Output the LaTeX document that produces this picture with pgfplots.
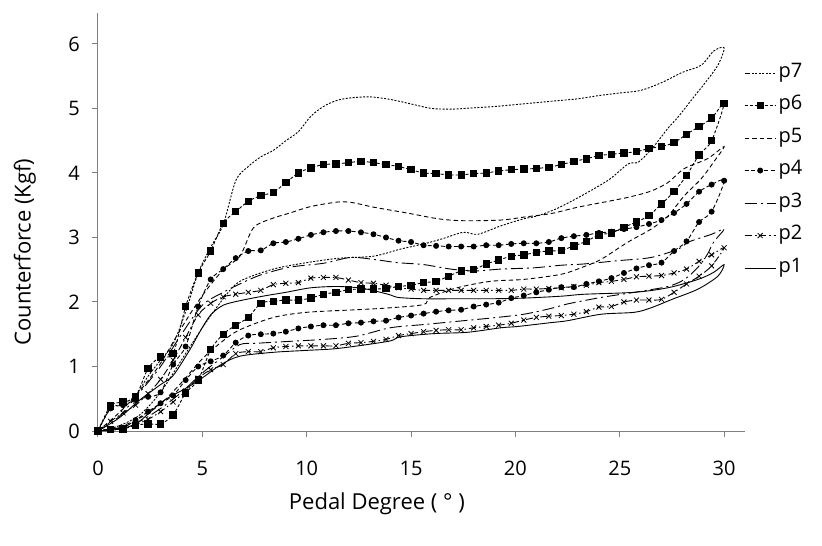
\documentclass[border=0pt]{standalone}
\usepackage{fontspec}
\setmainfont{Open Sans}
\usepackage{pgfplots}
\pgfplotsset{compat=1.18}
\begin{document}
\fontsize{21pt}{25pt}\selectfont
\begin{tikzpicture}
\path[use as bounding box] (-98pt,-115pt) rectangle (724pt,431pt);
\begin{axis}[
  at={(0pt,0pt)}, anchor=south west,
  scale only axis, width=647pt, height=418pt,
  xmin=0, xmax=31, ymin=0, ymax=6.48,
  axis lines=left,
  axis line style={-, draw=gray, line width=1pt},
  xtick={0,5,...,30}, ytick={0,1,...,6},
  tick align=outside, major tick length=6pt,
  tick style={draw=gray, line width=1pt},
  tick label style={font=\fontsize{20pt}{24pt}\selectfont},
  label style={font=\fontsize{22pt}{26pt}\selectfont},
  /pgf/number format/assume math mode=true,
  xticklabel style={yshift=-17pt},
  yticklabel style={xshift=-5pt},
  xlabel={Pedal Degree ( ° )},
  ylabel={Counterforce (Kgf)},
  xlabel style={at={(axis description cs:0.431,-0.175)}, anchor=center},
  ylabel style={at={(axis description cs:-0.113,0.428)}, anchor=center},
  clip=false,
  legend cell align=left,
  legend style={draw=none, fill=none, at={(axis description cs:0.9985,0.882)}, anchor=north west,
    row sep=11.5pt, inner sep=0pt, font=\fontsize{20pt}{24pt}\selectfont,
    nodes={inner sep=2.5pt, text height=12pt, text depth=4pt}},
  legend image code/.code={\draw[#1, mark repeat=2, mark phase=2] plot coordinates {(0pt,0pt) (15.5pt,0pt) (31pt,0pt)};},
  every axis plot/.append style={black, line width=0.9pt, smooth, tension=0.5},
]
% p7
\addplot[dash pattern=on 2pt off 1.5pt] coordinates {
(0,0)(0.6,0.35)(1.2,0.42)(1.8,0.55)(2.4,0.85)(3.0,1.1)(3.6,1.35)(4.2,1.85)(4.8,2.45)(5.4,2.85)(6.0,3.2)(6.6,3.88)(7.2,4.1)(7.8,4.25)(8.4,4.35)(9.0,4.5)(9.6,4.64)(10.2,4.88)(10.8,5.03)(11.4,5.12)(12.0,5.16)(13.0,5.18)(14.0,5.14)(15.0,5.07)(16.0,5.0)(17.0,4.99)(18.0,5.01)(19.0,5.03)(20.0,5.06)(21.0,5.09)(22.0,5.12)(23.0,5.15)(24.0,5.2)(25.0,5.24)(26.0,5.28)(27.0,5.4)(28.0,5.56)(28.9,5.67)(29.5,5.89)(30.0,5.94)
(29.7,5.67)(29.0,5.36)(28.6,5.2)(27.8,4.87)(27.3,4.69)(26.6,4.4)(25.9,4.17)(25.4,4.14)(24.5,3.9)(23.3,3.67)(22.0,3.45)(21.0,3.33)(20.4,3.29)(19.3,3.18)(18.2,3.05)(17.5,3.08)(16.5,2.98)(15.6,2.9)(14.5,2.82)(13.2,2.71)(11.6,2.68)(10.0,2.61)(8.4,2.51)(6.8,2.32)(6.0,2.05)(5.0,1.6)(4.0,1.1)(3.0,0.6)(2.0,0.25)(1.0,0.08)(0,0)
};
\addlegendentry{p7}
% p6
\addplot[dash pattern=on 3pt off 2pt, mark=square*, mark size=3.2pt, mark options={solid}] coordinates {
(0,0)(0.6,0.39)(1.2,0.45)(1.8,0.53)(2.4,0.97)(3.0,1.15)(3.6,1.2)(4.2,1.93)(4.8,2.45)(5.4,2.79)(6.0,3.22)(6.6,3.4)(7.2,3.56)(7.8,3.65)(8.4,3.7)(9.0,3.85)(9.6,4.0)(10.2,4.08)(10.8,4.13)(11.4,4.14)(12.0,4.16)(12.6,4.18)(13.2,4.16)(13.8,4.13)(14.4,4.1)(15.0,4.05)(15.6,4.0)(16.2,3.99)(16.8,3.97)(17.4,3.97)(18.0,3.99)(18.6,4.0)(19.2,4.03)(19.8,4.05)(20.4,4.06)(21.0,4.07)(21.6,4.09)(22.2,4.13)(22.8,4.18)(23.4,4.22)(24.0,4.27)(24.6,4.29)(25.2,4.31)(25.8,4.33)(26.4,4.38)(27.0,4.41)(27.6,4.47)(28.2,4.6)(28.8,4.72)(29.4,4.85)(30.0,5.08)
(29.4,4.5)(28.8,4.28)(28.2,3.96)(27.6,3.71)(27.0,3.52)(26.4,3.34)(25.8,3.24)(25.2,3.16)(24.6,3.07)(24.0,3.04)(23.4,2.94)(22.8,2.87)(22.2,2.8)(21.6,2.79)(21.0,2.77)(20.4,2.73)(19.8,2.71)(19.2,2.65)(18.6,2.59)(18.0,2.5)(17.4,2.48)(16.8,2.4)(16.2,2.32)(15.6,2.3)(15.0,2.26)(14.4,2.24)(13.8,2.21)(13.2,2.2)(12.6,2.2)(12.0,2.19)(11.4,2.15)(10.8,2.12)(10.2,2.06)(9.6,2.03)(9.0,2.03)(8.4,2.01)(7.8,1.98)(7.2,1.76)(6.6,1.64)(6.0,1.5)(5.4,1.26)(4.8,0.79)(4.2,0.59)(3.6,0.25)(3.0,0.11)(2.4,0.11)(1.8,0.09)(1.2,0.03)(0.6,0.02)(0,0)
};
\addlegendentry{p6}
% p5
\addplot[dash pattern=on 4.5pt off 3pt] coordinates {
(0,0)(1,0.28)(2,0.62)(3,1.05)(4,1.6)(5,2.1)(6,2.5)(6.8,2.71)(7.45,3.15)(8.3,3.29)(9.2,3.38)(10.2,3.48)(11.5,3.55)(12.2,3.54)(13.2,3.47)(14.8,3.38)(16.3,3.29)(17.5,3.26)(19.3,3.27)(20.5,3.32)(21.7,3.37)(23.0,3.47)(24.6,3.57)(25.5,3.63)(26.5,3.72)(27.3,3.85)(28.1,4.07)(29.2,4.22)(30.0,4.41)
(29.5,4.17)(28.9,3.91)(28.1,3.65)(27.3,3.33)(26.5,3.13)(25.4,2.93)(24.1,2.66)(23.3,2.55)(22.2,2.43)(20.4,2.35)(18.8,2.32)(17.2,2.22)(15.9,2.07)(15.6,1.96)(14.0,1.91)(12.4,1.88)(10.0,1.84)(8.4,1.76)(6.8,1.57)(6.0,1.4)(5.0,1.12)(4.0,0.75)(3.0,0.42)(2.0,0.2)(1.0,0.06)(0,0)
};
\addlegendentry{p5}
% p4
\addplot[dash pattern=on 4pt off 2.5pt, mark=*, mark size=2.5pt, mark options={solid}] coordinates {
(0,0)(0.6,0.35)(1.2,0.4)(1.8,0.48)(2.4,0.53)(3.0,0.6)(3.6,1.03)(4.2,1.31)(4.8,1.93)(5.4,2.35)(6.0,2.51)(6.6,2.68)(7.2,2.79)(7.8,2.8)(8.4,2.91)(9.0,2.93)(9.6,2.98)(10.2,3.04)(10.8,3.08)(11.4,3.1)(12.0,3.1)(12.6,3.08)(13.2,3.05)(13.8,3.0)(14.4,2.95)(15.0,2.93)(15.6,2.88)(16.2,2.87)(16.8,2.86)(17.4,2.86)(18.0,2.86)(18.6,2.88)(19.2,2.88)(19.8,2.9)(20.4,2.91)(21.0,2.91)(21.6,2.93)(22.2,2.99)(22.8,3.02)(23.4,3.04)(24.0,3.07)(24.6,3.09)(25.2,3.13)(25.8,3.16)(26.4,3.21)(27.0,3.27)(27.6,3.38)(28.2,3.52)(28.8,3.71)(29.4,3.82)(30.0,3.88)
(29.4,3.4)(28.8,3.24)(28.2,2.94)(27.6,2.79)(27.0,2.61)(26.4,2.57)(25.8,2.52)(25.2,2.45)(24.6,2.37)(24.0,2.32)(23.4,2.28)(22.8,2.23)(22.2,2.23)(21.6,2.19)(21.0,2.15)(20.4,2.1)(19.8,2.06)(19.2,1.99)(18.6,1.96)(18.0,1.93)(17.4,1.88)(16.8,1.87)(16.2,1.85)(15.6,1.82)(15.0,1.79)(14.4,1.76)(13.8,1.71)(13.2,1.7)(12.6,1.68)(12.0,1.67)(11.4,1.64)(10.8,1.64)(10.2,1.62)(9.6,1.59)(9.0,1.54)(8.4,1.51)(7.8,1.5)(7.2,1.48)(6.6,1.37)(6.0,1.17)(5.4,1.08)(4.8,1.0)(4.2,0.79)(3.6,0.55)(3.0,0.43)(2.4,0.3)(1.8,0.17)(1.2,0.05)(0.6,0.03)(0,0)
};
\addlegendentry{p4}
% p3
\addplot[dash pattern=on 12pt off 4pt on 2pt off 4pt] coordinates {
(0,0)(1,0.22)(2,0.6)(3,1.0)(4,1.5)(5,1.95)(6,2.15)(6.8,2.28)(7.8,2.42)(9.2,2.54)(10.8,2.6)(12.1,2.69)(13.2,2.66)(14.35,2.61)(15.6,2.58)(16.9,2.51)(18.0,2.48)(19.3,2.51)(20.9,2.53)(22.2,2.57)(23.3,2.59)(24.9,2.64)(26.5,2.69)(27.8,2.82)(28.3,2.93)(29.4,3.05)(30.0,3.13)
(29.5,2.93)(29.2,2.74)(28.75,2.54)(28.1,2.35)(27.3,2.24)(25.7,2.15)(24.1,2.07)(22.5,1.97)(21.7,1.9)(20.4,1.81)(18.8,1.75)(17.2,1.7)(15.6,1.65)(14.0,1.6)(12.4,1.47)(10.8,1.42)(9.2,1.39)(7.6,1.36)(6.8,1.34)(6.0,1.15)(5.0,0.9)(4.0,0.6)(3.0,0.35)(2.0,0.15)(1.0,0.05)(0,0)
};
\addlegendentry{p3}
% p2
\addplot[dash pattern=on 7pt off 3pt on 1.5pt off 3pt, mark=x, mark size=3.5pt, mark options={solid, line width=0.8pt}] coordinates {
(0,0)(0.6,0.15)(1.2,0.28)(1.8,0.4)(2.4,0.58)(3.0,0.8)(3.6,1.1)(4.2,1.45)(4.8,1.8)(5.4,1.98)(6.0,2.08)(6.6,2.12)(7.2,2.15)(7.8,2.18)(8.4,2.27)(9.0,2.29)(9.6,2.3)(10.2,2.37)(10.8,2.38)(11.4,2.38)(12.0,2.34)(12.6,2.3)(13.2,2.29)(13.8,2.26)(14.4,2.22)(15.0,2.2)(15.6,2.18)(16.2,2.18)(16.8,2.18)(17.4,2.18)(18.0,2.18)(18.6,2.18)(19.2,2.18)(19.8,2.18)(20.4,2.2)(21.0,2.2)(21.6,2.21)(22.2,2.22)(22.8,2.24)(23.4,2.26)(24.0,2.3)(24.6,2.32)(25.2,2.35)(25.8,2.39)(26.4,2.4)(27.0,2.41)(27.6,2.45)(28.2,2.51)(28.8,2.63)(29.4,2.73)(30.0,2.84)
(29.4,2.56)(28.8,2.4)(28.2,2.28)(27.6,2.15)(27.0,2.04)(26.4,2.03)(25.8,2.03)(25.2,2.0)(24.6,1.93)(24.0,1.92)(23.4,1.85)(22.8,1.81)(22.2,1.79)(21.6,1.78)(21.0,1.76)(20.4,1.72)(19.8,1.67)(19.2,1.64)(18.6,1.62)(18.0,1.6)(17.4,1.57)(16.8,1.57)(16.2,1.56)(15.6,1.54)(15.0,1.51)(14.4,1.48)(13.8,1.42)(13.2,1.39)(12.6,1.37)(12.0,1.36)(11.4,1.32)(10.8,1.32)(10.2,1.32)(9.6,1.32)(9.0,1.31)(8.4,1.29)(7.8,1.23)(7.2,1.23)(6.6,1.2)(6.0,1.03)(5.4,0.95)(4.8,0.82)(4.2,0.62)(3.6,0.45)(3.0,0.3)(2.4,0.18)(1.8,0.1)(1.2,0.04)(0.6,0.01)(0,0)
};
\addlegendentry{p2}
% p1
\addplot[solid] coordinates {
(0,0)(1,0.2)(2,0.48)(3,0.72)(3.6,0.86)(4.4,1.26)(4.9,1.55)(5.4,1.8)(6,1.95)(6.8,2.02)(7.9,2.09)(9,2.15)(10.2,2.22)(11.5,2.24)(12.7,2.21)(13.9,2.12)(14.4,2.07)(15.6,2.05)(17.2,2.05)(18.8,2.05)(20.4,2.06)(22.2,2.09)(23.3,2.12)(25.7,2.15)(27.3,2.22)(28.75,2.35)(29.5,2.46)(30,2.58)
(29.7,2.4)(28.75,2.2)(27.5,2.04)(26.5,1.91)(25.7,1.84)(24.1,1.81)(22.5,1.71)(21.7,1.68)(20.1,1.62)(19.3,1.6)(17.7,1.53)(16.1,1.51)(14.5,1.46)(13.9,1.39)(11.5,1.28)(10,1.25)(8.4,1.22)(6.8,1.16)(5.9,1.03)(4.9,0.8)(4.2,0.66)(3.1,0.46)(1.9,0.13)(1.0,0.03)(0,0)
};
\addlegendentry{p1}
\end{axis}
\end{tikzpicture}
\end{document}
